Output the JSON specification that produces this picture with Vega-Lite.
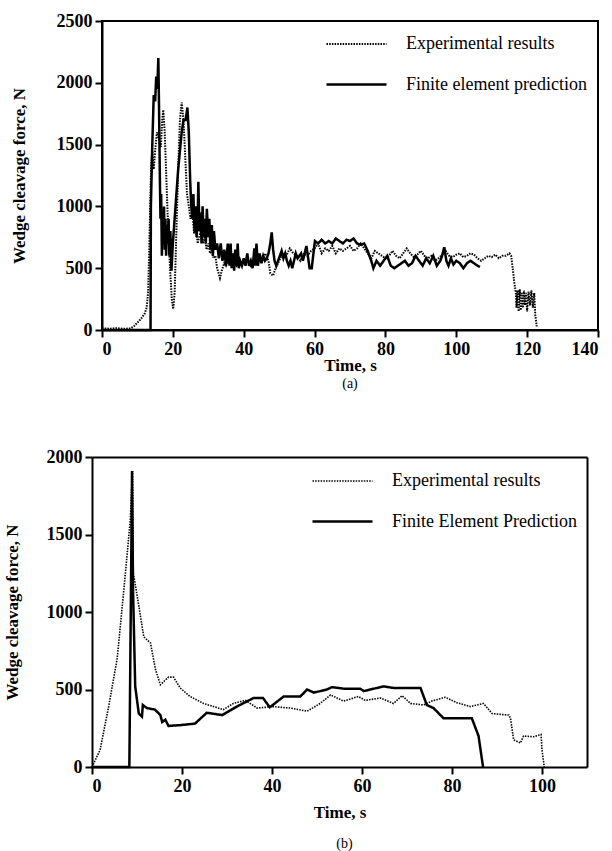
{
  "$schema": "https://vega.github.io/schema/vega-lite/v6.json",
  "padding": {"left": 3, "top": 11, "right": 5, "bottom": 0},
  "background": "white",
  "config": {
    "font": "Liberation Serif",
    "view": {"stroke": "black", "strokeWidth": 2},
    "axis": {"domainColor": "black", "domainWidth": 2, "tickColor": "black", "tickWidth": 2, "tickSize": 7, "labelColor": "black", "labelFont": "Liberation Serif", "labelFontSize": 18, "labelFontWeight": "bold", "titleFont": "Liberation Serif", "titleFontSize": 17, "titleFontWeight": "bold", "titleColor": "black", "grid": false, "labelPadding": 3, "format": "d"},
    "legend": {"orient": "none", "title": null, "symbolType": "stroke", "symbolSize": 3600, "symbolStrokeColor": "black", "labelFont": "Liberation Serif", "labelFontSize": 18, "labelFontWeight": "normal", "labelColor": "black", "labelOffset": 18, "rowPadding": -9, "padding": 0, "labelLimit": 400},
    "title": {"font": "Liberation Serif", "fontSize": 14, "fontWeight": "normal", "color": "black", "orient": "bottom", "anchor": "middle"}
  },
  "vconcat": [
    {
      "width": 496,
      "height": 309,
      "title": {"text": "(a)", "offset": 4},
      "data": {"values": [
        {"s":"Experimental results","t":0,"f":15},{"s":"Experimental results","t":2,"f":10},{"s":"Experimental results","t":4,"f":15},{"s":"Experimental results","t":6,"f":10},{"s":"Experimental results","t":8,"f":12},{"s":"Experimental results","t":9,"f":30},{"s":"Experimental results","t":10,"f":60},{"s":"Experimental results","t":11,"f":90},{"s":"Experimental results","t":12,"f":130},{"s":"Experimental results","t":12.6,"f":180},{"s":"Experimental results","t":13.0,"f":300},{"s":"Experimental results","t":13.3,"f":600},{"s":"Experimental results","t":13.6,"f":1000},{"s":"Experimental results","t":13.9,"f":1350},{"s":"Experimental results","t":14.2,"f":1450},{"s":"Experimental results","t":14.6,"f":1300},{"s":"Experimental results","t":15.0,"f":1450},{"s":"Experimental results","t":15.5,"f":1600},{"s":"Experimental results","t":16.0,"f":1550},{"s":"Experimental results","t":16.6,"f":1480},{"s":"Experimental results","t":17.0,"f":1700},{"s":"Experimental results","t":17.3,"f":1780},{"s":"Experimental results","t":17.7,"f":1600},{"s":"Experimental results","t":18.2,"f":1200},{"s":"Experimental results","t":18.7,"f":800},{"s":"Experimental results","t":19.2,"f":500},{"s":"Experimental results","t":19.7,"f":250},{"s":"Experimental results","t":20.1,"f":170},{"s":"Experimental results","t":20.5,"f":300},{"s":"Experimental results","t":21.0,"f":800},{"s":"Experimental results","t":21.5,"f":1300},{"s":"Experimental results","t":22.0,"f":1700},{"s":"Experimental results","t":22.5,"f":1840},{"s":"Experimental results","t":23.0,"f":1700},{"s":"Experimental results","t":23.5,"f":1400},{"s":"Experimental results","t":24.0,"f":1100},{"s":"Experimental results","t":24.5,"f":1000},{"s":"Experimental results","t":25.0,"f":900},{"s":"Experimental results","t":25.5,"f":950},{"s":"Experimental results","t":26.0,"f":780},{"s":"Experimental results","t":26.5,"f":850},{"s":"Experimental results","t":27.0,"f":700},{"s":"Experimental results","t":27.5,"f":760},{"s":"Experimental results","t":28.0,"f":820},{"s":"Experimental results","t":28.5,"f":700},{"s":"Experimental results","t":29,"f":760},{"s":"Experimental results","t":29.5,"f":650},{"s":"Experimental results","t":30,"f":700},{"s":"Experimental results","t":30.5,"f":620},{"s":"Experimental results","t":31,"f":650},{"s":"Experimental results","t":31.5,"f":580},{"s":"Experimental results","t":32,"f":600},{"s":"Experimental results","t":32.5,"f":500},{"s":"Experimental results","t":33,"f":450},{"s":"Experimental results","t":33.3,"f":420},{"s":"Experimental results","t":33.8,"f":480},{"s":"Experimental results","t":34.5,"f":540},{"s":"Experimental results","t":35,"f":520},{"s":"Experimental results","t":35.5,"f":560},{"s":"Experimental results","t":36,"f":540},{"s":"Experimental results","t":37,"f":600},{"s":"Experimental results","t":38,"f":520},{"s":"Experimental results","t":39,"f":560},{"s":"Experimental results","t":40,"f":540},{"s":"Experimental results","t":41,"f":580},{"s":"Experimental results","t":42,"f":520},{"s":"Experimental results","t":43,"f":560},{"s":"Experimental results","t":44,"f":600},{"s":"Experimental results","t":45,"f":540},{"s":"Experimental results","t":46,"f":620},{"s":"Experimental results","t":47,"f":560},{"s":"Experimental results","t":47.5,"f":460},{"s":"Experimental results","t":48.3,"f":440},{"s":"Experimental results","t":49,"f":500},{"s":"Experimental results","t":50,"f":560},{"s":"Experimental results","t":51,"f":620},{"s":"Experimental results","t":52,"f":600},{"s":"Experimental results","t":53,"f":660},{"s":"Experimental results","t":54,"f":620},{"s":"Experimental results","t":55,"f":600},{"s":"Experimental results","t":56,"f":560},{"s":"Experimental results","t":57,"f":620},{"s":"Experimental results","t":58,"f":600},{"s":"Experimental results","t":59,"f":640},{"s":"Experimental results","t":60,"f":660},{"s":"Experimental results","t":61,"f":700},{"s":"Experimental results","t":62,"f":620},{"s":"Experimental results","t":63,"f":660},{"s":"Experimental results","t":64,"f":640},{"s":"Experimental results","t":65,"f":680},{"s":"Experimental results","t":66,"f":620},{"s":"Experimental results","t":67,"f":660},{"s":"Experimental results","t":68,"f":640},{"s":"Experimental results","t":69,"f":660},{"s":"Experimental results","t":70,"f":680},{"s":"Experimental results","t":71,"f":640},{"s":"Experimental results","t":72,"f":660},{"s":"Experimental results","t":73,"f":700},{"s":"Experimental results","t":74,"f":660},{"s":"Experimental results","t":75,"f":620},{"s":"Experimental results","t":76,"f":580},{"s":"Experimental results","t":77,"f":640},{"s":"Experimental results","t":78,"f":620},{"s":"Experimental results","t":79,"f":600},{"s":"Experimental results","t":80,"f":580},{"s":"Experimental results","t":81,"f":600},{"s":"Experimental results","t":82,"f":640},{"s":"Experimental results","t":83,"f":600},{"s":"Experimental results","t":84,"f":580},{"s":"Experimental results","t":85,"f":620},{"s":"Experimental results","t":86,"f":660},{"s":"Experimental results","t":87,"f":620},{"s":"Experimental results","t":88,"f":590},{"s":"Experimental results","t":89,"f":610},{"s":"Experimental results","t":90,"f":640},{"s":"Experimental results","t":91,"f":600},{"s":"Experimental results","t":92,"f":580},{"s":"Experimental results","t":93,"f":600},{"s":"Experimental results","t":94,"f":560},{"s":"Experimental results","t":95,"f":580},{"s":"Experimental results","t":96,"f":610},{"s":"Experimental results","t":97,"f":640},{"s":"Experimental results","t":98,"f":600},{"s":"Experimental results","t":99,"f":590},{"s":"Experimental results","t":100,"f":610},{"s":"Experimental results","t":101,"f":620},{"s":"Experimental results","t":102,"f":590},{"s":"Experimental results","t":103,"f":600},{"s":"Experimental results","t":104,"f":620},{"s":"Experimental results","t":105,"f":610},{"s":"Experimental results","t":106,"f":580},{"s":"Experimental results","t":107,"f":560},{"s":"Experimental results","t":108,"f":580},{"s":"Experimental results","t":109,"f":600},{"s":"Experimental results","t":110,"f":590},{"s":"Experimental results","t":111,"f":610},{"s":"Experimental results","t":112,"f":580},{"s":"Experimental results","t":113,"f":600},{"s":"Experimental results","t":114,"f":600},{"s":"Experimental results","t":115,"f":620},{"s":"Experimental results","t":115.5,"f":600},{"s":"Experimental results","t":116,"f":480},{"s":"Experimental results","t":116.4,"f":380},{"s":"Experimental results","t":116.8,"f":300},{"s":"Experimental results","t":117,"f":180},{"s":"Experimental results","t":117.3,"f":320},{"s":"Experimental results","t":117.6,"f":150},{"s":"Experimental results","t":117.9,"f":330},{"s":"Experimental results","t":118.2,"f":160},{"s":"Experimental results","t":118.5,"f":300},{"s":"Experimental results","t":118.8,"f":180},{"s":"Experimental results","t":119.1,"f":320},{"s":"Experimental results","t":119.4,"f":200},{"s":"Experimental results","t":119.7,"f":300},{"s":"Experimental results","t":120,"f":150},{"s":"Experimental results","t":120.4,"f":310},{"s":"Experimental results","t":120.8,"f":200},{"s":"Experimental results","t":121.2,"f":320},{"s":"Experimental results","t":121.6,"f":180},{"s":"Experimental results","t":122,"f":300},{"s":"Experimental results","t":122.3,"f":120},{"s":"Experimental results","t":122.7,"f":30},
        {"s":"Finite element prediction","t":0,"f":0},{"s":"Finite element prediction","t":13.7,"f":0},{"s":"Finite element prediction","t":13.8,"f":1000},{"s":"Finite element prediction","t":14.2,"f":1500},{"s":"Finite element prediction","t":14.6,"f":1900},{"s":"Finite element prediction","t":15.0,"f":1850},{"s":"Finite element prediction","t":15.3,"f":2050},{"s":"Finite element prediction","t":15.6,"f":1950},{"s":"Finite element prediction","t":15.9,"f":2200},{"s":"Finite element prediction","t":16.1,"f":1800},{"s":"Finite element prediction","t":16.3,"f":1300},{"s":"Finite element prediction","t":16.5,"f":900},{"s":"Finite element prediction","t":16.7,"f":1100},{"s":"Finite element prediction","t":16.9,"f":600},{"s":"Finite element prediction","t":17.1,"f":950},{"s":"Finite element prediction","t":17.3,"f":700},{"s":"Finite element prediction","t":17.5,"f":1000},{"s":"Finite element prediction","t":17.7,"f":650},{"s":"Finite element prediction","t":17.9,"f":900},{"s":"Finite element prediction","t":18.1,"f":600},{"s":"Finite element prediction","t":18.3,"f":850},{"s":"Finite element prediction","t":18.5,"f":700},{"s":"Finite element prediction","t":18.8,"f":900},{"s":"Finite element prediction","t":19.0,"f":600},{"s":"Finite element prediction","t":19.3,"f":800},{"s":"Finite element prediction","t":19.6,"f":480},{"s":"Finite element prediction","t":20.0,"f":700},{"s":"Finite element prediction","t":20.5,"f":900},{"s":"Finite element prediction","t":21,"f":1100},{"s":"Finite element prediction","t":21.5,"f":1300},{"s":"Finite element prediction","t":22,"f":1450},{"s":"Finite element prediction","t":22.5,"f":1600},{"s":"Finite element prediction","t":23,"f":1700},{"s":"Finite element prediction","t":23.6,"f":1700},{"s":"Finite element prediction","t":24.1,"f":1800},{"s":"Finite element prediction","t":24.5,"f":1600},{"s":"Finite element prediction","t":24.9,"f":1200},{"s":"Finite element prediction","t":25.2,"f":1000},{"s":"Finite element prediction","t":25.5,"f":900},{"s":"Finite element prediction","t":25.8,"f":1100},{"s":"Finite element prediction","t":26.1,"f":800},{"s":"Finite element prediction","t":26.4,"f":1000},{"s":"Finite element prediction","t":26.7,"f":750},{"s":"Finite element prediction","t":27.0,"f":900},{"s":"Finite element prediction","t":27.2,"f":1200},{"s":"Finite element prediction","t":27.5,"f":800},{"s":"Finite element prediction","t":27.8,"f":950},{"s":"Finite element prediction","t":28.1,"f":700},{"s":"Finite element prediction","t":28.4,"f":1000},{"s":"Finite element prediction","t":28.7,"f":750},{"s":"Finite element prediction","t":29,"f":900},{"s":"Finite element prediction","t":29.3,"f":700},{"s":"Finite element prediction","t":29.6,"f":980},{"s":"Finite element prediction","t":30,"f":750},{"s":"Finite element prediction","t":30.3,"f":900},{"s":"Finite element prediction","t":30.6,"f":650},{"s":"Finite element prediction","t":31,"f":850},{"s":"Finite element prediction","t":31.3,"f":600},{"s":"Finite element prediction","t":31.6,"f":800},{"s":"Finite element prediction","t":32,"f":650},{"s":"Finite element prediction","t":32.5,"f":700},{"s":"Finite element prediction","t":33,"f":580},{"s":"Finite element prediction","t":33.5,"f":700},{"s":"Finite element prediction","t":34,"f":560},{"s":"Finite element prediction","t":34.5,"f":650},{"s":"Finite element prediction","t":35,"f":520},{"s":"Finite element prediction","t":35.5,"f":700},{"s":"Finite element prediction","t":36,"f":520},{"s":"Finite element prediction","t":36.3,"f":700},{"s":"Finite element prediction","t":36.6,"f":500},{"s":"Finite element prediction","t":37,"f":620},{"s":"Finite element prediction","t":37.3,"f":480},{"s":"Finite element prediction","t":37.6,"f":650},{"s":"Finite element prediction","t":38,"f":520},{"s":"Finite element prediction","t":38.3,"f":700},{"s":"Finite element prediction","t":38.6,"f":500},{"s":"Finite element prediction","t":39,"f":560},{"s":"Finite element prediction","t":39.5,"f":520},{"s":"Finite element prediction","t":40,"f":580},{"s":"Finite element prediction","t":40.5,"f":520},{"s":"Finite element prediction","t":41,"f":620},{"s":"Finite element prediction","t":41.5,"f":520},{"s":"Finite element prediction","t":42,"f":560},{"s":"Finite element prediction","t":42.5,"f":500},{"s":"Finite element prediction","t":43,"f":660},{"s":"Finite element prediction","t":43.3,"f":520},{"s":"Finite element prediction","t":43.6,"f":700},{"s":"Finite element prediction","t":44,"f":520},{"s":"Finite element prediction","t":44.5,"f":620},{"s":"Finite element prediction","t":45,"f":540},{"s":"Finite element prediction","t":45.5,"f":600},{"s":"Finite element prediction","t":46,"f":560},{"s":"Finite element prediction","t":46.5,"f":580},{"s":"Finite element prediction","t":47,"f":620},{"s":"Finite element prediction","t":47.5,"f":700},{"s":"Finite element prediction","t":47.9,"f":790},{"s":"Finite element prediction","t":48.3,"f":650},{"s":"Finite element prediction","t":48.7,"f":560},{"s":"Finite element prediction","t":49.2,"f":520},{"s":"Finite element prediction","t":49.7,"f":560},{"s":"Finite element prediction","t":50.2,"f":600},{"s":"Finite element prediction","t":50.7,"f":640},{"s":"Finite element prediction","t":51.2,"f":580},{"s":"Finite element prediction","t":51.7,"f":620},{"s":"Finite element prediction","t":52.2,"f":560},{"s":"Finite element prediction","t":52.7,"f":520},{"s":"Finite element prediction","t":53.2,"f":560},{"s":"Finite element prediction","t":53.7,"f":500},{"s":"Finite element prediction","t":54.2,"f":560},{"s":"Finite element prediction","t":54.7,"f":620},{"s":"Finite element prediction","t":55.2,"f":580},{"s":"Finite element prediction","t":55.7,"f":600},{"s":"Finite element prediction","t":56.2,"f":620},{"s":"Finite element prediction","t":56.7,"f":560},{"s":"Finite element prediction","t":57.2,"f":620},{"s":"Finite element prediction","t":57.7,"f":680},{"s":"Finite element prediction","t":58.2,"f":580},{"s":"Finite element prediction","t":58.6,"f":500},{"s":"Finite element prediction","t":59.2,"f":500},{"s":"Finite element prediction","t":59.6,"f":600},{"s":"Finite element prediction","t":60.1,"f":720},{"s":"Finite element prediction","t":61,"f":700},{"s":"Finite element prediction","t":62,"f":730},{"s":"Finite element prediction","t":63,"f":700},{"s":"Finite element prediction","t":64,"f":720},{"s":"Finite element prediction","t":65,"f":700},{"s":"Finite element prediction","t":66,"f":740},{"s":"Finite element prediction","t":67,"f":720},{"s":"Finite element prediction","t":68,"f":700},{"s":"Finite element prediction","t":69,"f":730},{"s":"Finite element prediction","t":70,"f":720},{"s":"Finite element prediction","t":71,"f":740},{"s":"Finite element prediction","t":72,"f":700},{"s":"Finite element prediction","t":73,"f":690},{"s":"Finite element prediction","t":74,"f":700},{"s":"Finite element prediction","t":75,"f":640},{"s":"Finite element prediction","t":76,"f":560},{"s":"Finite element prediction","t":76.6,"f":500},{"s":"Finite element prediction","t":77.5,"f":560},{"s":"Finite element prediction","t":78.5,"f":520},{"s":"Finite element prediction","t":79.5,"f":560},{"s":"Finite element prediction","t":80.5,"f":600},{"s":"Finite element prediction","t":81.5,"f":520},{"s":"Finite element prediction","t":82.5,"f":500},{"s":"Finite element prediction","t":83.5,"f":520},{"s":"Finite element prediction","t":84.5,"f":540},{"s":"Finite element prediction","t":85.5,"f":560},{"s":"Finite element prediction","t":86.5,"f":520},{"s":"Finite element prediction","t":87.5,"f":540},{"s":"Finite element prediction","t":88.5,"f":600},{"s":"Finite element prediction","t":89.5,"f":560},{"s":"Finite element prediction","t":90.5,"f":520},{"s":"Finite element prediction","t":91.5,"f":580},{"s":"Finite element prediction","t":92.5,"f":540},{"s":"Finite element prediction","t":93.5,"f":600},{"s":"Finite element prediction","t":94.5,"f":520},{"s":"Finite element prediction","t":95.5,"f":560},{"s":"Finite element prediction","t":96.0,"f":600},{"s":"Finite element prediction","t":96.6,"f":670},{"s":"Finite element prediction","t":97.2,"f":560},{"s":"Finite element prediction","t":97.8,"f":520},{"s":"Finite element prediction","t":98.5,"f":580},{"s":"Finite element prediction","t":99.2,"f":530},{"s":"Finite element prediction","t":100,"f":560},{"s":"Finite element prediction","t":101,"f":540},{"s":"Finite element prediction","t":102,"f":500},{"s":"Finite element prediction","t":103,"f":540},{"s":"Finite element prediction","t":104,"f":560},{"s":"Finite element prediction","t":105,"f":540},{"s":"Finite element prediction","t":106,"f":520},{"s":"Finite element prediction","t":106.7,"f":510}
      ]},
      "mark": {"type": "line", "color": "black", "strokeCap": "butt", "strokeJoin": "miter"},
      "encoding": {
        "x": {"field": "t", "type": "quantitative", "scale": {"domain": [0, 140], "nice": false}, "axis": {"values": [0, 20, 40, 60, 80, 100, 120, 140], "title": "Time, s", "titlePadding": -1, "labelPadding": 3}},
        "y": {"field": "f", "type": "quantitative", "scale": {"domain": [0, 2500], "nice": false}, "axis": {"values": [0, 500, 1000, 1500, 2000, 2500], "title": "Wedge cleavage force, N", "titlePadding": 28}},
        "strokeDash": {"field": "s", "type": "nominal", "scale": {"domain": ["Experimental results", "Finite element prediction"], "range": [[1.5, 1.2], [1, 0]]}, "legend": {"legendX": 223, "legendY": -8}},
        "strokeWidth": {"field": "s", "type": "nominal", "scale": {"domain": ["Experimental results", "Finite element prediction"], "range": [2, 2.5]}, "legend": {"legendX": 223, "legendY": -8}}
      }
    },
    {
      "width": 485,
      "height": 310,
      "view": {"stroke": null},
      "title": {"text": "(b)", "offset": 17},
      "data": {"values": [
        {"s":"Experimental results","t":0,"f":0},{"s":"Experimental results","t":1.8,"f":110},{"s":"Experimental results","t":3.7,"f":390},{"s":"Experimental results","t":5.6,"f":700},{"s":"Experimental results","t":7.0,"f":1120},{"s":"Experimental results","t":8.5,"f":1590},{"s":"Experimental results","t":9.0,"f":1910},{"s":"Experimental results","t":9.2,"f":1250},{"s":"Experimental results","t":10.4,"f":1040},{"s":"Experimental results","t":11.5,"f":840},{"s":"Experimental results","t":13,"f":800},{"s":"Experimental results","t":14.1,"f":630},{"s":"Experimental results","t":15.2,"f":530},{"s":"Experimental results","t":17,"f":580},{"s":"Experimental results","t":18.1,"f":580},{"s":"Experimental results","t":19.6,"f":510},{"s":"Experimental results","t":21.8,"f":455},{"s":"Experimental results","t":24.8,"f":410},{"s":"Experimental results","t":29.2,"f":370},{"s":"Experimental results","t":31.4,"f":410},{"s":"Experimental results","t":34.1,"f":430},{"s":"Experimental results","t":36.7,"f":380},{"s":"Experimental results","t":40,"f":390},{"s":"Experimental results","t":44.1,"f":380},{"s":"Experimental results","t":47.8,"f":360},{"s":"Experimental results","t":50.7,"f":410},{"s":"Experimental results","t":53,"f":465},{"s":"Experimental results","t":55.9,"f":425},{"s":"Experimental results","t":59.2,"f":455},{"s":"Experimental results","t":60.7,"f":430},{"s":"Experimental results","t":64.1,"f":445},{"s":"Experimental results","t":67,"f":410},{"s":"Experimental results","t":68.9,"f":460},{"s":"Experimental results","t":70.8,"f":410},{"s":"Experimental results","t":73.7,"f":400},{"s":"Experimental results","t":75.5,"f":425},{"s":"Experimental results","t":78.5,"f":450},{"s":"Experimental results","t":81.1,"f":415},{"s":"Experimental results","t":84.1,"f":390},{"s":"Experimental results","t":87,"f":410},{"s":"Experimental results","t":88.9,"f":345},{"s":"Experimental results","t":92.6,"f":335},{"s":"Experimental results","t":93,"f":315},{"s":"Experimental results","t":93.7,"f":175},{"s":"Experimental results","t":95.2,"f":155},{"s":"Experimental results","t":95.9,"f":200},{"s":"Experimental results","t":98.1,"f":195},{"s":"Experimental results","t":99.8,"f":210},{"s":"Experimental results","t":100,"f":110},{"s":"Experimental results","t":100.5,"f":0},
        {"s":"Finite Element Prediction","t":0,"f":0},{"s":"Finite Element Prediction","t":8.3,"f":0},{"s":"Finite Element Prediction","t":8.9,"f":1910},{"s":"Finite Element Prediction","t":9.1,"f":1170},{"s":"Finite Element Prediction","t":9.6,"f":520},{"s":"Finite Element Prediction","t":10.4,"f":345},{"s":"Finite Element Prediction","t":11.1,"f":325},{"s":"Finite Element Prediction","t":11.3,"f":400},{"s":"Finite Element Prediction","t":12.2,"f":380},{"s":"Finite Element Prediction","t":14,"f":370},{"s":"Finite Element Prediction","t":15.2,"f":335},{"s":"Finite Element Prediction","t":15.6,"f":290},{"s":"Finite Element Prediction","t":16.3,"f":305},{"s":"Finite Element Prediction","t":17,"f":265},{"s":"Finite Element Prediction","t":19.6,"f":270},{"s":"Finite Element Prediction","t":22.9,"f":280},{"s":"Finite Element Prediction","t":25.5,"f":350},{"s":"Finite Element Prediction","t":28.9,"f":335},{"s":"Finite Element Prediction","t":32.2,"f":390},{"s":"Finite Element Prediction","t":35.9,"f":445},{"s":"Finite Element Prediction","t":38,"f":445},{"s":"Finite Element Prediction","t":39.5,"f":385},{"s":"Finite Element Prediction","t":42.6,"f":455},{"s":"Finite Element Prediction","t":46.3,"f":455},{"s":"Finite Element Prediction","t":47.8,"f":500},{"s":"Finite Element Prediction","t":49.3,"f":480},{"s":"Finite Element Prediction","t":52.2,"f":500},{"s":"Finite Element Prediction","t":53.3,"f":515},{"s":"Finite Element Prediction","t":56,"f":505},{"s":"Finite Element Prediction","t":59.6,"f":505},{"s":"Finite Element Prediction","t":60.4,"f":490},{"s":"Finite Element Prediction","t":64.8,"f":520},{"s":"Finite Element Prediction","t":67,"f":510},{"s":"Finite Element Prediction","t":73,"f":510},{"s":"Finite Element Prediction","t":74.4,"f":400},{"s":"Finite Element Prediction","t":75.9,"f":380},{"s":"Finite Element Prediction","t":78.1,"f":315},{"s":"Finite Element Prediction","t":84.4,"f":315},{"s":"Finite Element Prediction","t":85.9,"f":200},{"s":"Finite Element Prediction","t":86.9,"f":0}
      ]},
      "layer": [
        {
          "mark": {"type": "line", "color": "black", "strokeCap": "butt", "strokeJoin": "miter"},
          "encoding": {
            "x": {"field": "t", "type": "quantitative", "scale": {"domain": [0, 110], "nice": false, "range": [-10, 485]}, "axis": {"values": [0, 20, 40, 60, 80, 100], "title": "Time, s", "titlePadding": 9, "labelPadding": 3}},
            "y": {"field": "f", "type": "quantitative", "scale": {"domain": [0, 2000], "nice": false}, "axis": {"values": [0, 500, 1000, 1500, 2000], "title": "Wedge cleavage force, N", "titlePadding": 25, "offset": 10}},
            "strokeDash": {"field": "s", "type": "nominal", "scale": {"domain": ["Experimental results", "Finite Element Prediction"], "range": [[1.5, 1.2], [1, 0]]}, "legend": {"legendX": 209, "legendY": -7}},
            "strokeWidth": {"field": "s", "type": "nominal", "scale": {"domain": ["Experimental results", "Finite Element Prediction"], "range": [1.6, 2.5]}, "legend": {"legendX": 209, "legendY": -7}}
          }
        },
        {
          "mark": {"type": "point", "opacity": 0},
          "encoding": {
            "x": {"field": "t", "type": "quantitative", "axis": {"orient": "top", "labels": false, "ticks": false, "title": null, "values": []}},
            "y": {"field": "f", "type": "quantitative", "axis": {"orient": "right", "labels": false, "ticks": false, "title": null, "values": []}}
          }
        }
      ],
      "resolve": {"axis": {"x": "independent", "y": "independent"}}
    }
  ],
  "spacing": 56,
  "resolve": {"scale": {"strokeDash": "independent", "strokeWidth": "independent"}, "legend": {"strokeDash": "independent", "strokeWidth": "independent"}}
}
